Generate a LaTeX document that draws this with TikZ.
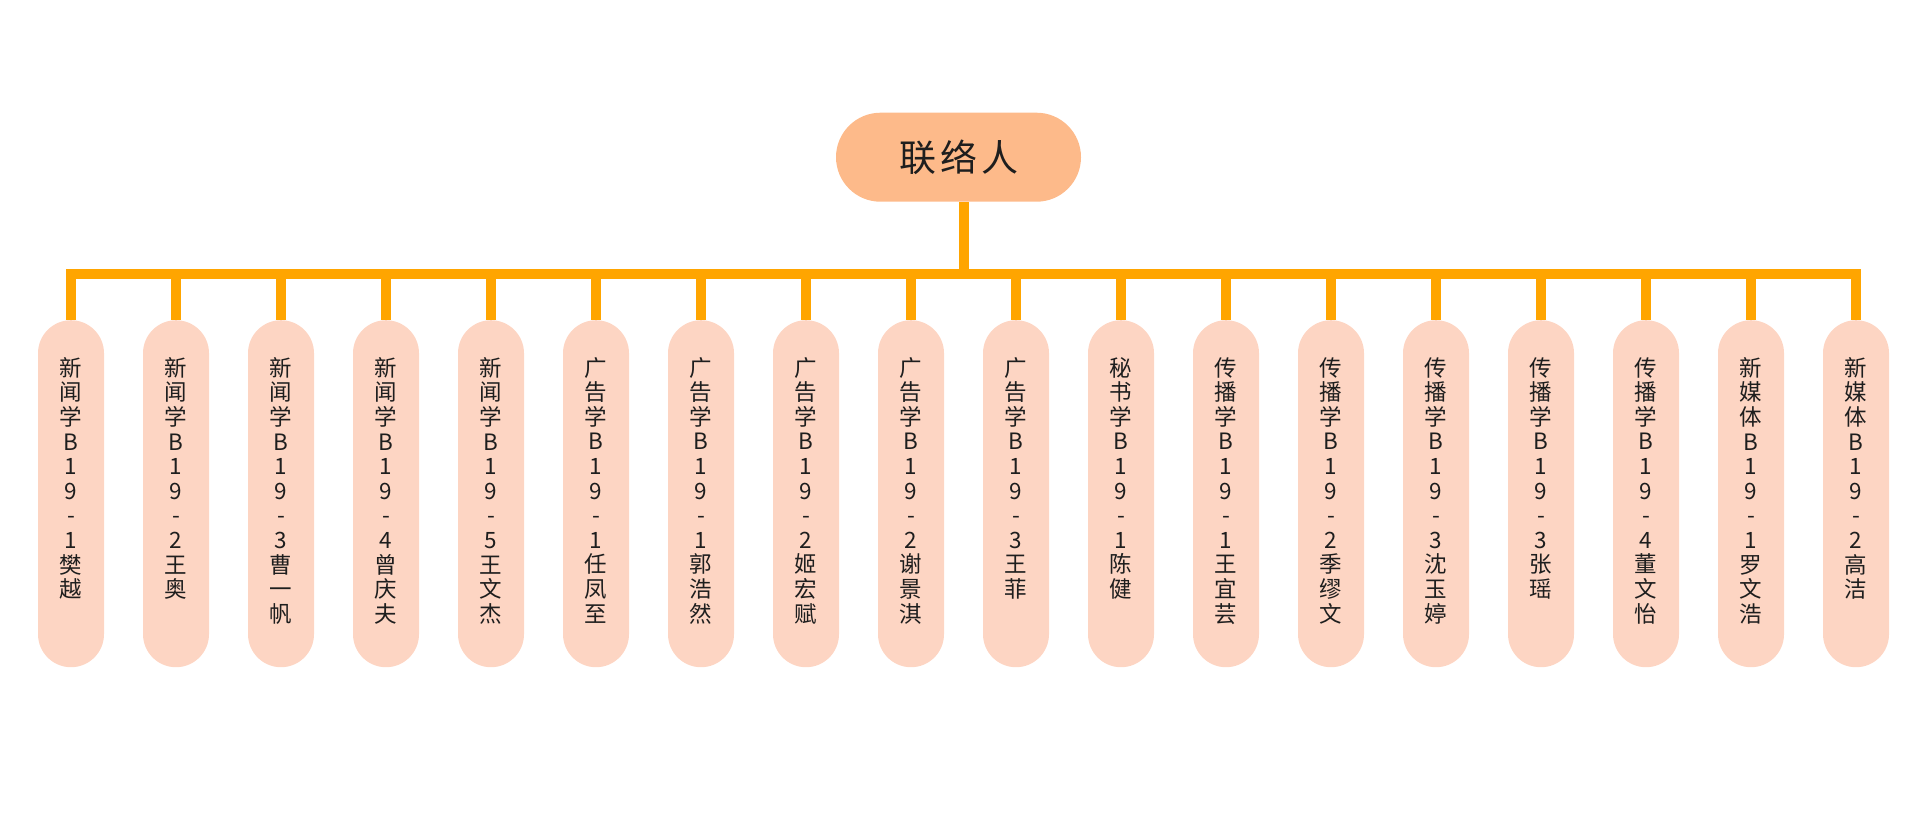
\documentclass[tikz,border=0pt]{standalone}
\usepackage{fontspec}
\setmainfont{Noto Sans CJK SC}
\definecolor{connclr}{HTML}{FFA500}
\definecolor{rootfill}{HTML}{FDBA8A}
\definecolor{kidfill}{HTML}{FDD5C3}
\definecolor{txtclr}{HTML}{1E1E1E}
\makeatletter
\newcommand\vchars[1]{\vbox to 347pt{\hsize=66pt\baselineskip=24.6pt\lineskiplimit=-20pt\vskip 37pt
  \@tfor\vc@x:=#1\do{\hbox to\hsize{\hss\vc@x\hss}}\vss}}
\makeatother
\tikzset{
  conn/.style={draw=connclr, line width=10pt},
  rootbox/.style={fill=rootfill, rounded corners=44.5pt, minimum width=245pt, minimum height=89pt,
    inner sep=0pt, text=txtclr, font=\fontsize{37}{40}\selectfont},
  kidbox/.style={fill=kidfill, rounded corners=33pt, inner sep=0pt, anchor=north, text=txtclr,
    font=\fontsize{22.5}{24.6}\selectfont}
}
\begin{document}
\begin{tikzpicture}[x=1pt,y=-1pt]
\useasboundingbox (0,0) rectangle (1926,831);
\node[rootbox] (root) at (958.5,157.2) {联\hspace{4pt}络\hspace{4pt}人};
\coordinate (bus) at (963.5,274);
\draw[conn] ([xshift=5pt]root.south) -- ([xshift=5pt]root.south |- bus);
\foreach \t [count=\i] in {新闻学B19-1樊越,新闻学B19-2王奥,新闻学B19-3曹一帆,新闻学B19-4曾庆夫,新闻学B19-5王文杰,广告学B19-1任凤至,广告学B19-1郭浩然,广告学B19-2姬宏赋,广告学B19-2谢景淇,广告学B19-3王菲,秘书学B19-1陈健,传播学B19-1王宜芸,传播学B19-2季缪文,传播学B19-3沈玉婷,传播学B19-3张瑶,传播学B19-4董文怡,新媒体B19-1罗文浩,新媒体B19-2高洁}{
  \node[kidbox] (c\i) at ({71+105*(\i-1)},320) {\expandafter\vchars\expandafter{\t}};
  \draw[conn] (c\i.north) |- (bus);
}
\end{tikzpicture}
\end{document}
